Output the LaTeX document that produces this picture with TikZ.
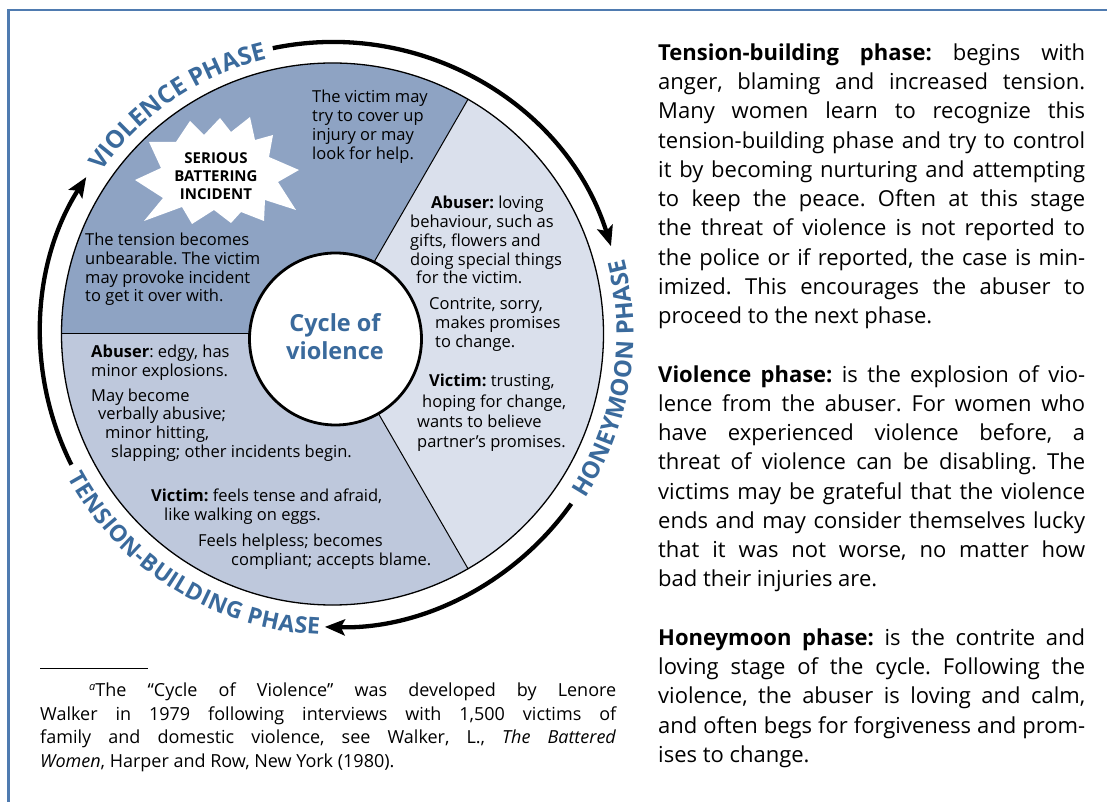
\documentclass[tikz,border=0pt]{standalone}
\usepackage{fontspec}
\setmainfont{Open Sans}
\usetikzlibrary{decorations.text,arrows.meta}
\definecolor{vio}{HTML}{8EA3C3}
\definecolor{ten}{HTML}{BEC8DC}
\definecolor{hon}{HTML}{DAE0EC}
\definecolor{phaseblue}{HTML}{3A6A9C}
\definecolor{frameblue}{HTML}{4F7BB0}
\newcommand\phasefnt[1]{\fontsize{#1}{#1}\selectfont\bfseries}
\newcommand\jline[2]{\hbox to #1{#2}}
\frenchspacing
\begin{document}
\frenchspacing
\begin{tikzpicture}[x=1pt,y=1pt,
  txt/.style={inner sep=0pt, anchor=base west, font=\fontsize{16.5pt}{19pt}\selectfont},
  startxt/.style={inner sep=0pt, anchor=base, font=\fontsize{15pt}{18pt}\selectfont\bfseries},
  hubtxt/.style={inner sep=0pt, anchor=base, text=phaseblue, font=\fontsize{23.5pt}{28pt}\selectfont\bfseries},
  arcarrow/.style={line width=4.3pt, -{Stealth[length=20pt,width=16pt,inset=4pt]}},
  divider/.style={line width=1pt},
]
\useasboundingbox (0,0) rectangle (1107,801);
\fill[white] (0,0) rectangle (1107,801);
% frame
\draw[frameblue, line width=2.2pt] (8.5,-3) -- (8.5,791) -- (1112,791);

\coordinate (O) at (332.5,467);
% sectors
\fill[vio] (O) -- ([shift={(60:271pt)}]O) arc[start angle=60,end angle=180,radius=271pt] -- cycle;
\fill[ten] (O) -- ([shift={(180:271pt)}]O) arc[start angle=180,end angle=300,radius=271pt] -- cycle;
\fill[hon] (O) -- ([shift={(-60:271pt)}]O) arc[start angle=-60,end angle=60,radius=271pt] -- cycle;
\draw[line width=1.3pt] (O) circle[radius=271pt];
\coordinate (d1o) at ([shift={(60:271pt)}]O);
\coordinate (d1i) at ([shift={(60:80pt)}]O);
\coordinate (d2o) at ([shift={(180:271pt)}]O);
\coordinate (d2i) at ([shift={(180:80pt)}]O);
\coordinate (d3o) at ([shift={(-60:271pt)}]O);
\coordinate (d3i) at ([shift={(-60:80pt)}]O);
\draw[divider] (d1o) -- (d1i);
\draw[divider] (d2o) -- (d2i);
\draw[divider] (d3o) -- (d3i);

% hub
\node[circle, draw, line width=2.8pt, fill=white, minimum size=172pt, inner sep=0pt] (hub) at (335.5,462) {};
\node[hubtxt] (hub1) at (335,469.3) {Cycle of};
\node[hubtxt] (hub2) at (335,441) {violence};

% starburst
\fill[white] (190,680) -- (204,666) -- (220,683) -- (231,669) -- (250,684) -- (255,661) -- (273,666) -- (269,644) -- (299,631) -- (278,619) -- (296,591) -- (265,601) -- (264,580) -- (241,589) -- (231,578) -- (214,591) -- (192,577) -- (182,594) -- (144,580) -- (163,603) -- (135,621) -- (161,633) -- (149,659) -- (176,659) -- cycle;
\node[startxt] (s1) at (216,637) {SERIOUS};
\node[startxt] (s2) at (216,619) {BATTERING};
\node[startxt] (s3) at (216,601) {INCIDENT};

% violence sector text
\node[txt] (v1) at (312,698) {The victim may};
\node[txt] (v2) at (312,679) {try to cover up};
\node[txt] (v3) at (312,660.5) {injury or may};
\node[txt] (v4) at (312,641.5) {look for help.};
\node[txt] (v5) at (85,555.5) {The tension becomes};
\node[txt] (v6) at (85,536.5) {unbearable. The victim};
\node[txt] (v7) at (85,517.5) {may provoke incident};
\node[txt] (v8) at (85,499.5) {to get it over with.};

% honeymoon sector text
\node[txt] (h1) at (431,592.5) {\textbf{Abuser:} loving};
\node[txt] (h2) at (410,573.5) {behaviour, such as};
\node[txt] (h3) at (410,554.5) {gifts, flowers and};
\node[txt] (h4) at (410,535.5) {doing special things};
\node[txt] (h5) at (416,517.5) {for the victim.};
\node[txt] (h6) at (429,491.5) {Contrite, sorry,};
\node[txt] (h7) at (435,472.5) {makes promises};
\node[txt] (h8) at (435,453.5) {to change.};
\node[txt] (h9) at (429,414) {\textbf{Victim:} trusting,};
\node[txt] (h10) at (422,393.5) {hoping for change,};
\node[txt] (h11) at (417,373.5) {wants to believe};
\node[txt] (h12) at (417,353.5) {partner’s promises.};

% tension sector text
\node[txt] (t1) at (91,443.5) {\textbf{Abuser}: edgy, has};
\node[txt] (t2) at (91,424.5) {minor explosions.};
\node[txt] (t3) at (91,399.5) {May become};
\node[txt] (t4) at (98,381) {verbally abusive;};
\node[txt] (t5) at (105,362.5) {minor hitting,};
\node[txt] (t6) at (111,344) {slapping; other incidents begin.};
\node[txt] (t7) at (151,299.5) {\textbf{Victim:} feels tense and afraid,};
\node[txt] (t8) at (164,280.5) {like walking on eggs.};
\node[txt] (t9) at (198,255) {Feels helpless; becomes};
\node[txt] (t10) at (231,236) {compliant; accepts blame.};

% cycle arrows
\draw[arcarrow] ([shift={(101.8:292pt)}]O) arc[start angle=101.8,end angle=17.5,radius=292pt];
\draw[arcarrow] ([shift={(-35.4:293pt)}]O) arc[start angle=-35.4,end angle=-91.5,radius=293pt];
\draw[arcarrow] ([shift={(206.6:292pt)}]O) arc[start angle=206.6,end angle=147.5,radius=292pt];

% phase labels
\path[decorate, decoration={text along path, text align={fit to path}, text color=phaseblue, text={|\phasefnt{24.5pt}|VIOLENCE PHASE}}]
  ([shift={(145:282.5pt)}]O) arc[start angle=145,end angle=104,radius=282.5pt];
\path[decorate, decoration={text along path, text align={fit to path}, text color=phaseblue, text={|\phasefnt{23.8pt}|HONEYMOON PHASE}}]
  ([shift={(-33:301pt)}]O) arc[start angle=-33,end angle=14.5,radius=301pt];
\path[decorate, decoration={text along path, text align={fit to path}, text color=phaseblue, text={|\phasefnt{23pt}|TENSION-BUILDING PHASE}}]
  ([shift={(208.5:301pt)}]O) arc[start angle=208.5,end angle=267.5,radius=301pt];

% right column
\node[anchor=base west, inner sep=0pt, font=\fontsize{22pt}{29.25pt}\selectfont] (rc) at (658,740.5) {\vtop{\hsize=427pt\baselineskip=29.25pt\lineskiplimit=-1000pt\lineskip=0pt
\jline{427pt}{\textbf{Tension-building phase:} begins with}
\jline{427pt}{anger, blaming and increased tension.}
\jline{427pt}{Many women learn to recognize this}
\jline{427pt}{tension-building phase and try to control}
\jline{427pt}{it by becoming nurturing and attempting}
\jline{427pt}{to keep the peace. Often at this stage}
\jline{427pt}{the threat of violence is not reported to}
\jline{427pt}{the police or if reported, the case is min-}
\jline{427pt}{imized. This encourages the abuser to}
\hbox{proceed to the next phase.}
\hbox{}
\jline{427pt}{\textbf{Violence phase:} is the explosion of vio-}
\jline{427pt}{lence from the abuser. For women who}
\jline{427pt}{have experienced violence before, a}
\jline{427pt}{threat of violence can be disabling. The}
\jline{427pt}{victims may be grateful that the violence}
\jline{427pt}{ends and may consider themselves lucky}
\jline{427pt}{that it was not worse, no matter how}
\hbox{bad their injuries are.}
\hbox{}
\jline{427pt}{\textbf{Honeymoon phase:} is the contrite and}
\jline{427pt}{loving stage of the cycle. Following the}
\jline{427pt}{violence, the abuser is loving and calm,}
\jline{427pt}{and often begs for forgiveness and prom-}
\hbox{ises to change.}}};

% footnote
\coordinate (fnl) at (40,133);
\coordinate (fnr) at (148,133);
\draw[line width=0.8pt] (fnl) -- (fnr);
\node[anchor=base west, inner sep=0pt, font=\fontsize{18pt}{23.7pt}\selectfont] (fn) at (40,104.5) {\vtop{\hsize=576pt\baselineskip=23.7pt\lineskiplimit=-1000pt\lineskip=0pt
\jline{576pt}{\hskip49pt\relax\raisebox{0.6ex}{\fontsize{11pt}{11pt}\selectfont\itshape a}The “Cycle of Violence” was developed by Lenore}
\jline{576pt}{Walker in 1979 following interviews with 1,500 victims of}
\jline{576pt}{family and domestic violence, see Walker, L., \textit{The Battered}}
\hbox{\textit{Women}, Harper and Row, New York (1980).}}};
\end{tikzpicture}
\end{document}
